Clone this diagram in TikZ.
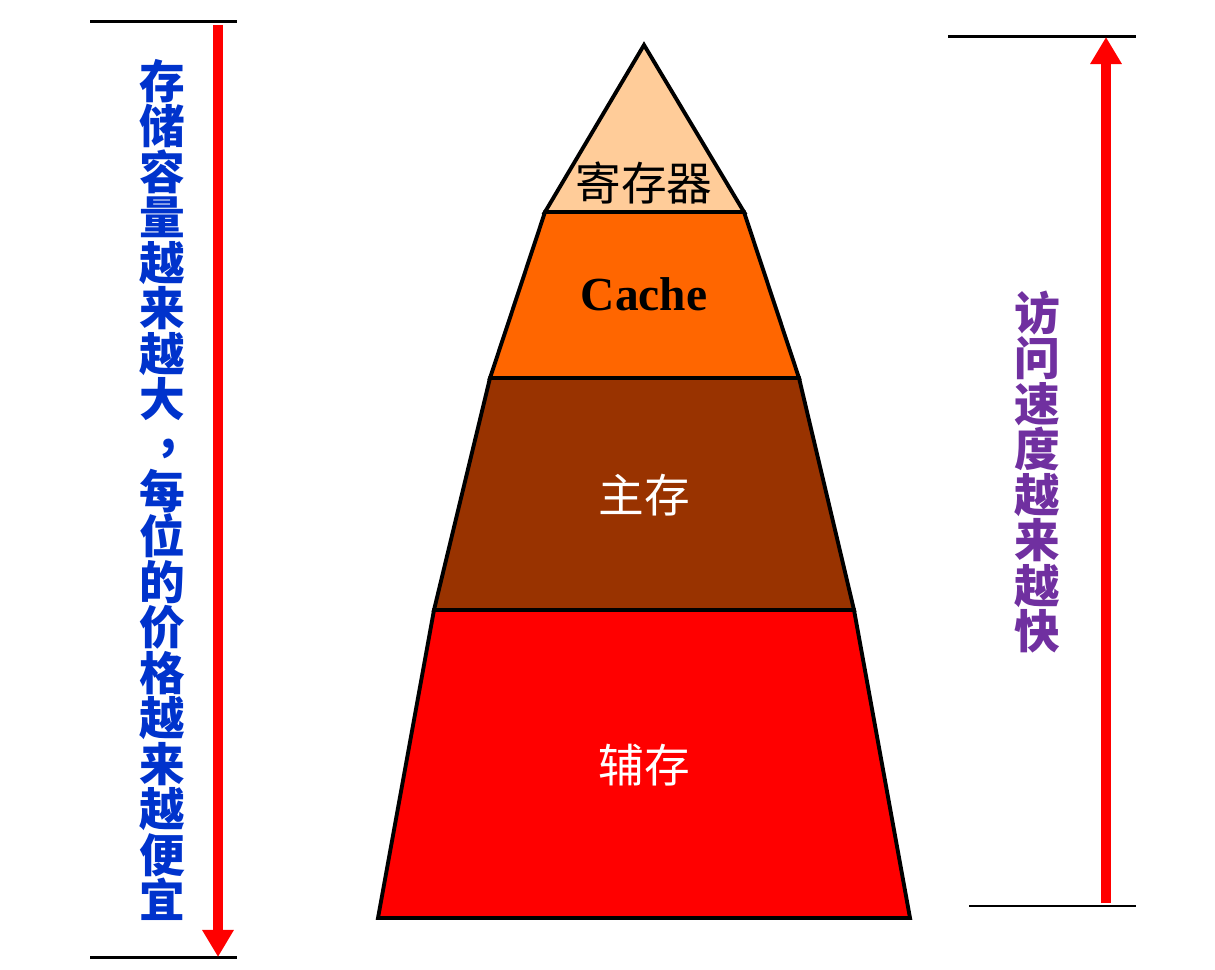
\documentclass[tikz,border=0pt]{standalone}
\usepackage{fontspec}
\setmainfont{Liberation Serif}
\newfontfamily\cjk{Noto Sans CJK SC}
\usetikzlibrary{arrows.meta}

\definecolor{regfill}{RGB}{255,204,153}
\definecolor{cachefill}{RGB}{255,102,0}
\definecolor{mainfill}{RGB}{153,51,0}
\definecolor{auxfill}{RGB}{255,0,0}
\definecolor{capblue}{RGB}{0,51,204}
\definecolor{speedpurple}{RGB}{112,48,160}

\tikzset{
  layer/.style={draw=black,line width=1.1pt},
  rule/.style={draw=black,line width=0.85pt},
  bigarrow/.style={draw=red,line width=2.85pt,-{Triangle[width=8.5pt,length=7.7pt]}},
  vtext/.style={align=center,inner sep=0pt,font=\cjk\bfseries\fontsize{13}{12.95}\selectfont},
  layertext/.style={inner sep=0pt,font=\cjk\fontsize{13}{15}\selectfont}
}

\begin{document}
\begin{tikzpicture}[x=0.1mm,y=-0.1mm]

%SPACING
\useasboundingbox (0,0) rectangle (1215,970);
%SPACING

\fill[layer,fill=auxfill] (434,610) -- (854,610) -- (910,918) -- (378,918) -- cycle;
\fill[layer,fill=mainfill] (490,378) -- (799,378) -- (854,610) -- (434,610) -- cycle;
\fill[layer,fill=cachefill] (545,212) -- (744,212) -- (799,378) -- (490,378) -- cycle;
\fill[layer,fill=regfill] (644,45) -- (744,212) -- (545,212) -- cycle;

\node[layertext,text=black](v1) at (644,183) {寄存器};
\node[inner sep=0pt,font=\bfseries\fontsize{13.5}{15}\selectfont](v2) at (644,294) {Cache};
\node[layertext,text=white](v3) at (644,495) {主存};
\node[layertext,text=white](v4) at (644,765) {辅存};

\coordinate(c1) at (90,22);
\coordinate(c2) at (237,22);
\coordinate(c3) at (90,957);
\coordinate(c4) at (237,957);
\coordinate(c5) at (948,37);
\coordinate(c6) at (1136,37);
\coordinate(c7) at (969,906);
\coordinate(c8) at (1136,906);

\draw[rule] (c1) -- (c2);
\draw[rule] (c3) -- (c4);
\draw[rule] (c5) -- (c6);
\draw[rule] (c7) -- (c8);

\coordinate(a1) at (218,25);
\coordinate(a2) at (218,957);
\coordinate(a3) at (1106,903);
\coordinate(a4) at (1106,37);

\draw[bigarrow] (a1) -- (a2);
\draw[bigarrow] (a3) -- (a4);

\node[vtext,text=capblue](v5) at (162,490) {存\\储\\容\\量\\越\\来\\越\\大\\\hspace{0.3em}\raisebox{0.3em}{,}\\每\\位\\的\\价\\格\\越\\来\\越\\便\\宜};
\node[vtext,text=speedpurple](v6) at (1037,472) {访\\问\\速\\度\\越\\来\\越\\快};

\end{tikzpicture}
\end{document}
